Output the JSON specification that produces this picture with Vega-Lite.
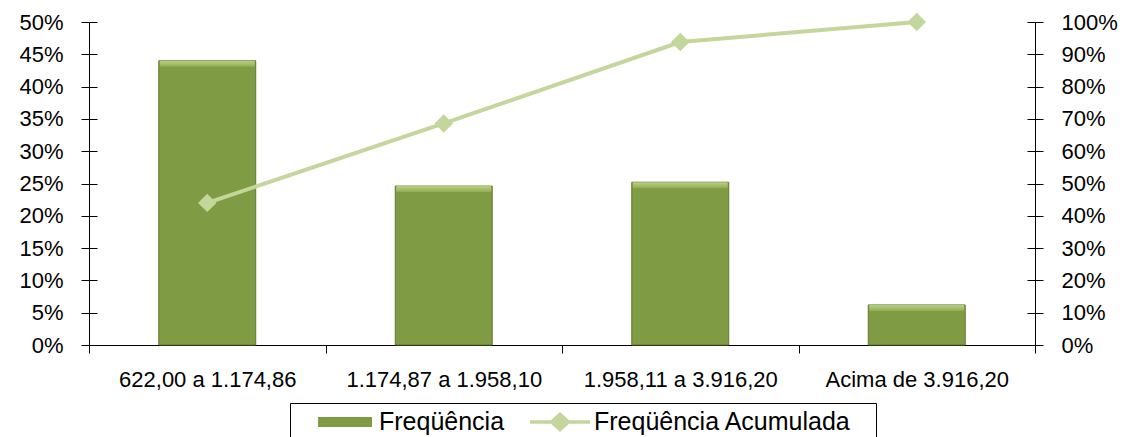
{
  "$schema": "https://vega.github.io/schema/vega-lite/v6.json",
  "autosize": "none",
  "padding": {"left": 89, "top": 22, "right": 92, "bottom": 92},
  "width": 946,
  "height": 323,
  "background": "white",
  "config": {
    "font": "Liberation Sans",
    "view": {"stroke": null},
    "axis": {"labelColor": "black", "domainColor": "black", "tickColor": "black", "labelFont": "Liberation Sans", "labelFontSize": 22, "grid": false, "title": null, "domainWidth": 1, "tickWidth": 1, "labelLimit": 400}
  },
  "data": {
    "values": [
      {"cat": "622,00 a 1.174,86", "freq": 0.440, "acum": 0.440},
      {"cat": "1.174,87 a 1.958,10", "freq": 0.246, "acum": 0.686},
      {"cat": "1.958,11 a 3.916,20", "freq": 0.252, "acum": 0.938},
      {"cat": "Acima de 3.916,20", "freq": 0.062, "acum": 1.0}
    ]
  },
  "encoding": {
    "x": {
      "field": "cat", "type": "nominal", "sort": null,
      "scale": {"type": "band", "paddingInner": 0, "paddingOuter": 0},
      "axis": {"labelAngle": 0, "tickSize": 8, "tickBand": "extent", "labelPadding": 16, "title": null}
    }
  },
  "layer": [
    {
      "mark": {"type": "bar", "color": "#7f9b44", "stroke": "#5e7a2c", "strokeWidth": 1, "width": {"band": 0.41}},
      "encoding": {
        "y": {"field": "freq", "type": "quantitative", "scale": {"domain": [0, 0.5], "nice": false},
          "axis": {"orient": "left", "format": ".0%", "values": [0, 0.05, 0.1, 0.15, 0.2, 0.25, 0.3, 0.35, 0.4, 0.45, 0.5], "tickSize": 8, "labelPadding": 18}}
      }
    },
    {
      "mark": {"type": "tick", "orient": "horizontal", "thickness": 6, "size": 95, "yOffset": 3, "filled": true,
        "fill": {"gradient": "linear", "x1": 0, "y1": 0, "x2": 0, "y2": 1, "stops": [{"offset": 0, "color": "#d4eaa2"}, {"offset": 1, "color": "#98b35a"}]}},
      "encoding": {
        "y": {"field": "freq", "type": "quantitative", "scale": {"domain": [0, 0.5], "nice": false},
          "axis": {"orient": "left", "offset": -8, "labels": false, "domain": false, "values": [0, 0.05, 0.1, 0.15, 0.2, 0.25, 0.3, 0.35, 0.4, 0.45, 0.5], "tickSize": 8}}
      }
    },
    {
      "mark": {"type": "line", "color": "#c3d69b", "strokeWidth": 4,
        "point": {"filled": true, "shape": "diamond", "size": 340, "color": "#c3d69b"}},
      "encoding": {
        "y": {"field": "acum", "type": "quantitative", "scale": {"domain": [0, 1], "nice": false},
          "axis": {"orient": "right", "format": ".0%", "values": [0, 0.1, 0.2, 0.3, 0.4, 0.5, 0.6, 0.7, 0.8, 0.9, 1], "tickSize": 8, "labelPadding": 18}}
      }
    },
    {
      "mark": {"type": "point", "filled": true, "opacity": 0},
      "encoding": {
        "y": {"field": "acum", "type": "quantitative", "scale": {"domain": [0, 1], "nice": false},
          "axis": {"orient": "right", "offset": -8, "labels": false, "domain": false, "values": [0, 0.1, 0.2, 0.3, 0.4, 0.5, 0.6, 0.7, 0.8, 0.9, 1], "tickSize": 8}},
        "color": {"datum": "Freqüência Acumulada", "type": "nominal",
          "scale": {"domain": ["Freqüência", "Freqüência Acumulada"], "range": ["#7f9b44", "#c3d69b"]},
          "legend": {"orient": "none", "legendX": 201, "legendY": 381, "direction": "horizontal",
            "title": "\u00a0", "titleOrient": "right", "titlePadding": 17, "titleFontSize": 4,
            "strokeColor": "black", "fillColor": "white", "padding": 8, "symbolOffset": 17, "labelOffset": 4,
            "columnPadding": 8, "clipHeight": 22, "symbolSize": 3600, "symbolOpacity": 1, "symbolStrokeWidth": 0,
            "labelFontSize": 25, "labelColor": "black", "labelFont": "Liberation Sans", "labelLimit": 500}},
        "shape": {"datum": "Freqüência Acumulada", "type": "nominal",
          "scale": {"domain": ["Freqüência", "Freqüência Acumulada"], "range": ["M-0.9,-0.17H0.9V0.17H-0.9Z", "M-1,-0.06H-0.3L0,-0.33L0.3,-0.06H1V0.06H0.3L0,0.33L-0.3,0.06H-1Z"]},
          "legend": {"orient": "none", "legendX": 201, "legendY": 381, "direction": "horizontal",
            "title": "\u00a0", "titleOrient": "right", "titlePadding": 17, "titleFontSize": 4,
            "strokeColor": "black", "fillColor": "white", "padding": 8, "symbolOffset": 17, "labelOffset": 4,
            "columnPadding": 8, "clipHeight": 22, "symbolSize": 3600, "symbolOpacity": 1, "symbolStrokeWidth": 0,
            "labelFontSize": 25, "labelColor": "black", "labelFont": "Liberation Sans", "labelLimit": 500}}
      }
    }
  ],
  "resolve": {"scale": {"y": "independent"}}
}
